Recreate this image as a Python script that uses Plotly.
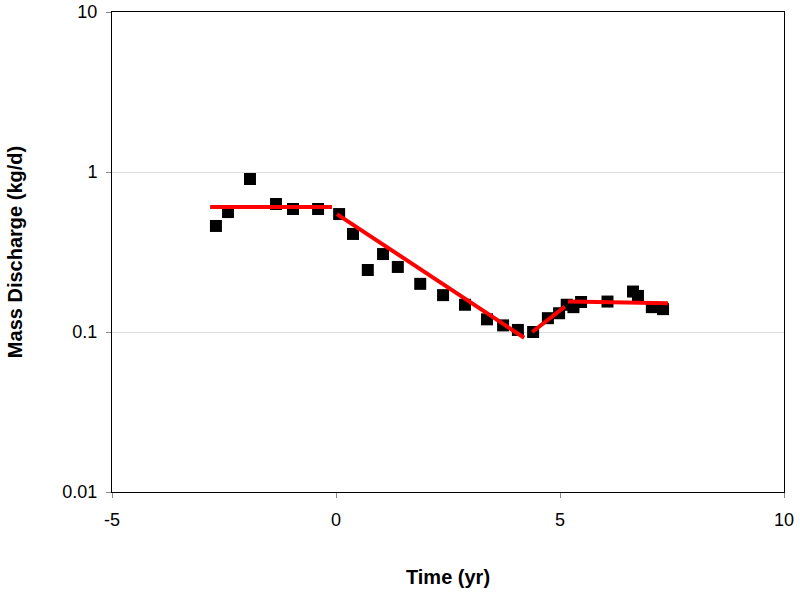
import plotly.graph_objects as go

# measured data points
time_yr = [-2.68, -2.41, -1.92, -1.34, -0.96, -0.40, 0.07, 0.38, 0.71, 1.05,
           1.38, 1.88, 2.39, 2.88, 3.37, 3.73, 4.06, 4.40, 4.73, 4.98,
           5.15, 5.30, 5.47, 6.06, 6.63, 6.74, 7.05, 7.30]
discharge = [0.46, 0.562, 0.904, 0.631, 0.587, 0.587, 0.546, 0.41, 0.244, 0.307,
             0.255, 0.20, 0.17, 0.148, 0.12, 0.11, 0.103, 0.10, 0.122, 0.131,
             0.148, 0.143, 0.154, 0.155, 0.179, 0.168, 0.143, 0.139]

# fitted trend segments
fit_segments = [
    ([-2.81, -0.09], [0.604, 0.604]),
    ([0.02, 4.20], [0.546, 0.092]),
    ([4.38, 5.11], [0.10, 0.144]),
    ([5.18, 7.41], [0.155, 0.151]),
]

x_ticks = [-5, 0, 5, 10]
x_tick_labels = ['-5', '0', '5', '10']
y_ticks = [0.01, 0.1, 1, 10]
y_tick_labels = ['0.01', '0.1', '1', '10']

fig = go.Figure()

fig.add_trace(go.Scatter(
    x=time_yr, y=discharge, mode='markers',
    marker=dict(symbol='square', size=12, color='black'),
    showlegend=False, cliponaxis=False
))

for xs, ys in fit_segments:
    fig.add_trace(go.Scatter(
        x=xs, y=ys, mode='lines',
        line=dict(color='#ff0000', width=4),
        showlegend=False
    ))

fig.update_layout(
    width=800, height=596,
    paper_bgcolor='white', plot_bgcolor='white',
    margin=dict(l=112, r=16, t=12, b=104),
    font=dict(family='Liberation Sans, Arial, sans-serif', size=18, color='black'),
    xaxis=dict(
        range=[-5, 10], tickvals=x_ticks, ticktext=x_tick_labels,
        showgrid=False, zeroline=False, automargin=False,
        showline=True, linecolor='black', linewidth=1, mirror=True,
        ticks='outside', ticklen=5, tickcolor='#888', ticklabelstandoff=6,
        ticklabeloverflow='allow',
        title=dict(text='<b>Time (yr)</b>', font=dict(size=20), standoff=41),
    ),
    yaxis=dict(
        type='log', range=[-2, 1],
        tickvals=y_ticks, ticktext=y_tick_labels,
        showgrid=True, gridcolor='#dddddd', zeroline=False, automargin=False,
        showline=True, linecolor='black', linewidth=1, mirror=True,
        ticks='outside', ticklen=5, tickcolor='#888', ticklabelstandoff=5,
        ticklabeloverflow='allow',
        title=dict(text='<b>Mass Discharge (kg/d)</b>', font=dict(size=20), standoff=34),
    ),
)

# drop the default page margin so the figure sits at the window's corner
fig.write_html("out.html", config={'displayModeBar': False},
               post_script="document.body.style.margin = '0';")
